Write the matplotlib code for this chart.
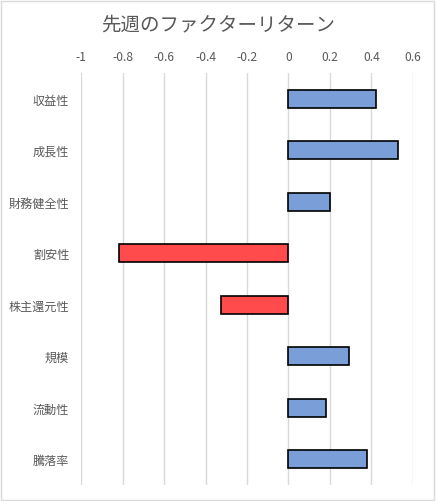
import matplotlib.pyplot as plt
from matplotlib.patches import Rectangle

plt.rcParams['font.family'] = ['Noto Sans CJK JP', 'DejaVu Sans']

factors = ['収益性', '成長性', '財務健全性', '割安性', '株主還元性', '規模', '流動性', '騰落率']
returns = [0.42, 0.53, 0.20, -0.816, -0.324, 0.29, 0.18, 0.377]
ticks = [-1, -0.8, -0.6, -0.4, -0.2, 0, 0.2, 0.4, 0.6]
tick_labels = ['-1', '-0.8', '-0.6', '-0.4', '-0.2', '0', '0.2', '0.4', '0.6']

colors = ['#7a9ed8' if v >= 0 else '#ff4b4b' for v in returns]

fig = plt.figure(figsize=(4.36, 5.02), dpi=100)
ax = fig.add_axes([0.186, 0.032, 0.761, 0.821])

ax.barh(range(len(factors)), returns, height=0.35, color=colors,
        edgecolor='black', linewidth=1.2, zorder=3)

ax.set_xlim(-1, 0.6)
ax.set_ylim(len(factors) - 0.5, -0.5)
ax.set_xticks(ticks)
ax.set_xticklabels(tick_labels)
ax.set_yticks(range(len(factors)))
ax.set_yticklabels(factors)
ax.xaxis.tick_top()
ax.tick_params(axis='both', length=0, labelsize=8.7, labelcolor='#595959')
ax.tick_params(axis='x', pad=7)
ax.tick_params(axis='y', pad=8.5)
ax.grid(axis='x', color='#d9d9d9', linewidth=1, zorder=0)
for s in ax.spines.values():
    s.set_visible(False)

fig.text(0.5, 0.95, '先週のファクターリターン', ha='center', va='center',
         fontsize=14, color='#595959')

fig.patches.append(Rectangle((0.002, 0.002), 0.994, 0.994, transform=fig.transFigure,
                             fill=False, edgecolor='#d9d9d9', linewidth=1))

fig.savefig('out.png', dpi=100)
